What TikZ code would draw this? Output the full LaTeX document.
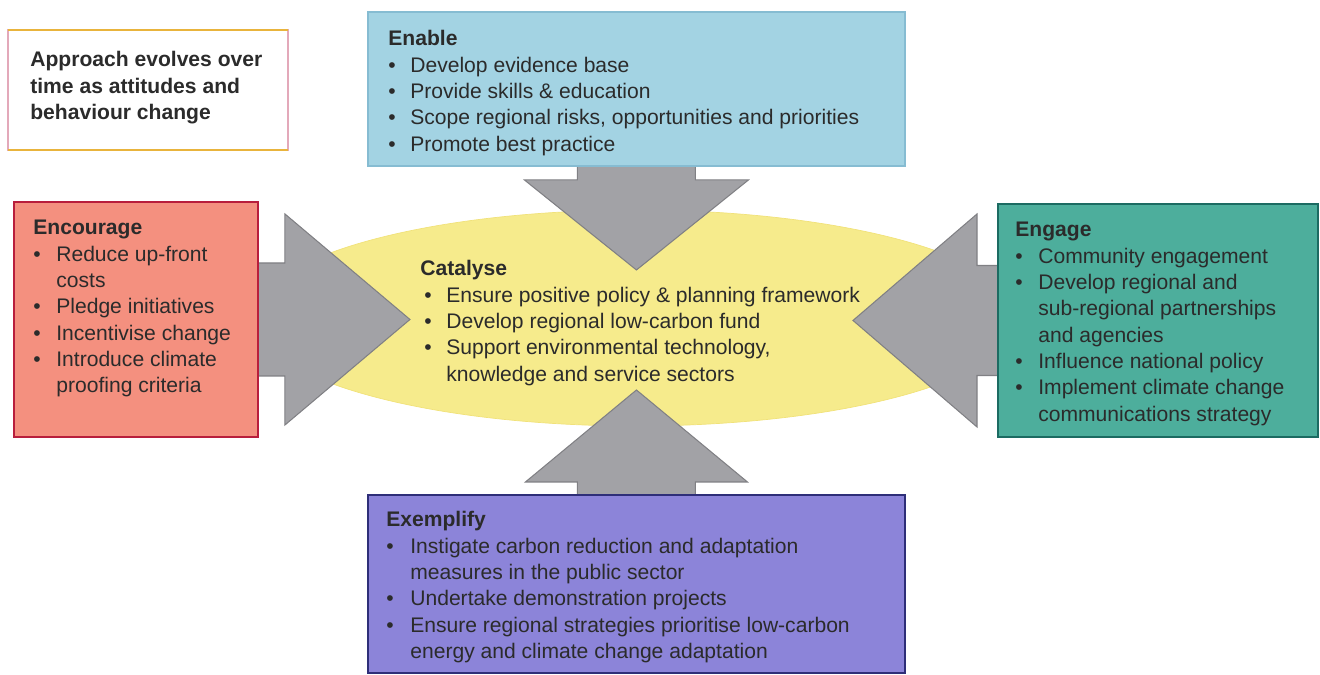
\documentclass[tikz,border=0pt]{standalone}
\usepackage{fontspec}
\setmainfont{Liberation Sans}
\usetikzlibrary{positioning,shapes.geometric,backgrounds}

\definecolor{enablefill}{HTML}{A3D3E3}
\definecolor{enableedge}{HTML}{86BCD2}
\definecolor{encfill}{HTML}{F4907F}
\definecolor{encedge}{HTML}{B81E3C}
\definecolor{engfill}{HTML}{4DAE9C}
\definecolor{engedge}{HTML}{1C6B62}
\definecolor{exfill}{HTML}{8C84D9}
\definecolor{exedge}{HTML}{2E2E78}
\definecolor{catfill}{HTML}{F6EB8C}
\definecolor{catedge}{HTML}{F1E27A}
\definecolor{arrfill}{HTML}{A2A2A6}
\definecolor{arredge}{HTML}{808084}
\definecolor{txtgray}{HTML}{2B2B2B}
\definecolor{apprgold}{HTML}{E9B43C}
\definecolor{apprpink}{HTML}{E3A9BA}

% base, angle, length, shaft length, shaft half width, head half width
\newcommand{\blockarrow}[6]{%
  \filldraw[arrowblk, shift={#1}, rotate=#2]
    (0,-#5) -- (#4,-#5) -- (#4,-#6) -- (#3,0) -- (#4,#6) -- (#4,#5) -- (0,#5) -- cycle;}

\begin{document}
\begin{tikzpicture}[x=0.02cm, y=-0.02cm,
  card/.style={draw, line width=1pt, inner sep=0pt, outer sep=0pt, anchor=north west},
  listtxt/.style={anchor=north west, inner sep=0pt, text=txtgray, font=\fontsize{12}{15}\selectfont},
  arrowblk/.style={fill=arrfill, draw=arredge, line width=0.6pt, line join=miter}]

\useasboundingbox (0,0) rectangle (1320,675);

\node[card, draw=apprpink, fill=white, minimum width=5.6cm, minimum height=2.4cm] (approach) at (8,30) {};
\draw[apprgold, line width=1.2pt] (approach.north west) -- (approach.north east);
\draw[apprgold, line width=1.2pt] (approach.south west) -- (approach.south east);

\node[card, draw=enableedge, fill=enablefill, minimum width=10.74cm, minimum height=3.08cm] (enable) at (368,12) {};
\node[card, draw=encedge, fill=encfill, minimum width=4.88cm, minimum height=4.7cm] (encourage) at (14,202) {};
\node[card, draw=engedge, fill=engfill, minimum width=6.4cm, minimum height=4.66cm] (engage) at (998,204) {};
\node[card, draw=exedge, fill=exfill, minimum width=10.74cm, minimum height=3.56cm] (exemplify) at (368,495) {};

\begin{scope}[on background layer]
  \node[ellipse, inner sep=0pt, fill=catfill, draw=catedge, minimum width=15.32cm, minimum height=4.32cm] (catalyse) at (636,318) {};
  \blockarrow{(enable.south)}{-90}{104}{14}{59}{112}
  \blockarrow{(encourage.east)}{0}{152}{27}{56.5}{105.5}
  \blockarrow{(engage.west)}{180}{145}{21}{55}{106.5}
  \blockarrow{(exemplify.north)}{90}{105}{13}{59}{111}
\end{scope}

\node[listtxt, font=\fontsize{12}{15.3}\selectfont\bfseries, below right=0.34cm and 0.44cm of approach.north west] (approachtxt)
  {\begin{tabular}{@{}l@{}}
   Approach evolves over\\
   time as attitudes and\\
   behaviour change
   \end{tabular}};

\node[listtxt, below right=0.3cm and 0.4cm of enable.north west] (enabletxt)
  {\begin{tabular}{@{}p{0.44cm}@{}l@{}}
   \multicolumn{2}{@{}l@{}}{\textbf{Enable}}\\
   \textbullet & Develop evidence base\\
   \textbullet & Provide skills \& education\\
   \textbullet & Scope regional risks, opportunities and priorities\\
   \textbullet & Promote best practice
   \end{tabular}};

\node[listtxt, below right=0.28cm and 0.38cm of encourage.north west] (encouragetxt)
  {\begin{tabular}{@{}p{0.46cm}@{}l@{}}
   \multicolumn{2}{@{}l@{}}{\textbf{Encourage}}\\
   \textbullet & Reduce up-front\\
               & costs\\
   \textbullet & Pledge initiatives\\
   \textbullet & Incentivise change\\
   \textbullet & Introduce climate\\
               & proofing criteria
   \end{tabular}};

\node[listtxt, below right=0.28cm and 0.34cm of engage.north west] (engagetxt)
  {\begin{tabular}{@{}p{0.46cm}@{}l@{}}
   \multicolumn{2}{@{}l@{}}{\textbf{Engage}}\\
   \textbullet & Community engagement\\
   \textbullet & Develop regional and\\
               & sub-regional partnerships\\
               & and agencies\\
   \textbullet & Influence national policy\\
   \textbullet & Implement climate change\\
               & communications strategy
   \end{tabular}};

\node[listtxt, below right=0.26cm and 0.36cm of exemplify.north west] (exemplifytxt)
  {\begin{tabular}{@{}p{0.48cm}@{}l@{}}
   \multicolumn{2}{@{}l@{}}{\textbf{Exemplify}}\\
   \textbullet & Instigate carbon reduction and adaptation\\
               & measures in the public sector\\
   \textbullet & Undertake demonstration projects\\
   \textbullet & Ensure regional strategies prioritise low-carbon\\
               & energy and climate change adaptation
   \end{tabular}};

\node[listtxt] (catalysetxt) at (420,257)
  {\begin{tabular}{@{}p{0.52cm}@{}l@{}}
   \multicolumn{2}{@{}l@{}}{\textbf{Catalyse}}\\
   \hspace{0.08cm}\textbullet & Ensure positive policy \& planning framework\\
   \hspace{0.08cm}\textbullet & Develop regional low-carbon fund\\
   \hspace{0.08cm}\textbullet & Support environmental technology,\\
                              & knowledge and service sectors
   \end{tabular}};

\end{tikzpicture}
\end{document}
